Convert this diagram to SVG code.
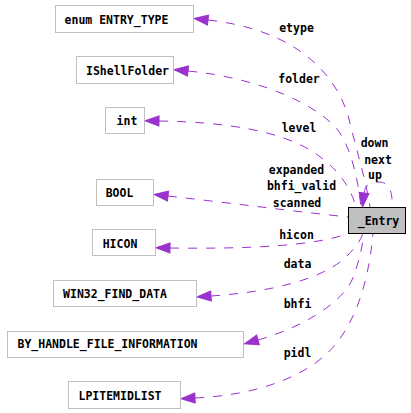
<svg xmlns="http://www.w3.org/2000/svg" width="411" height="413" viewBox="0 0 411 413">
<style>
text{font-family:"DejaVu Sans Mono","Liberation Mono",monospace;font-weight:bold;font-size:11.5px;fill:#000;text-anchor:middle}
.box{fill:#fff;stroke:#bfbfbf;stroke-width:1}
.main{fill:#bfbfbf;stroke:#000;stroke-width:1}
.edge{fill:none;stroke:#9a32cd;stroke-width:1;stroke-dasharray:9,9;marker-start:url(#ah)}
</style>
<defs>
<marker id="ah" markerUnits="userSpaceOnUse" markerWidth="16" markerHeight="12" refX="0" refY="5" orient="auto-start-reverse" overflow="visible">
<path d="M0,0 L14,5 L0,10 z" fill="#9a32cd" stroke="#9a32cd" stroke-width="1"/>
</marker>
</defs>
<rect width="411" height="413" fill="#fff"/>
<g id="connectors">
<path class="edge" d="M208,20 C280,28 330,60 348,115 C355,145 366,180 370,207"/>
<path class="edge" d="M188,71 C260,78 320,105 340,133 C352,152 358,180 361,207"/>
<path class="edge" d="M159,121 C230,122 280,132 310,150 C335,165 350,185 356,207"/>
<path class="edge" d="M168,196 C230,203 300,212 348,217"/>
<path class="edge" d="M170,248 C250,249 315,246 350,233"/>
<path class="edge" d="M211,296 C270,292 320,280 345,258 C355,248 360,242 363,233"/>
<path class="edge" d="M258,340 C300,328 340,305 352,280 C358,265 362,250 364,233"/>
<path class="edge" d="M195,398 C260,395 310,375 335,345 C360,315 370,270 373,233"/>
<path class="edge" d="M364,193 C365,184 372,182 379,182 C388,182 393,190 392,207"/>
<text x="296.5" y="32">etype</text>
<text x="299" y="83">folder</text>
<text x="299" y="132">level</text>
<text x="374.5" y="147">down</text>
<text x="378" y="164">next</text>
<text x="375" y="179">up</text>
<text x="296.5" y="174">expanded</text>
<text x="301.5" y="190">bhfi_valid</text>
<text x="297" y="207">scanned</text>
<text x="296.5" y="239">hicon</text>
<text x="297.5" y="268">data</text>
<text x="297.5" y="308">bhfi</text>
<text x="297.5" y="357">pidl</text>
</g>
<g id="node-entry-type"><rect class="box" x="55.5" y="5.5" width="138" height="27"/><text x="116.5" y="24">enum ENTRY_TYPE</text></g>
<g id="node-ishellfolder"><rect class="box" x="76.5" y="56.5" width="97" height="27"/><text x="127.5" y="75">IShellFolder</text></g>
<g id="node-int"><rect class="box" x="105.5" y="107.5" width="39" height="26"/><text x="127" y="125">int</text></g>
<g id="node-bool"><rect class="box" x="96.5" y="179.5" width="57" height="26"/><text x="119.5" y="197">BOOL</text></g>
<g id="node-hicon"><rect class="box" x="92.5" y="229.5" width="63" height="26"/><text x="120" y="248">HICON</text></g>
<g id="node-win32"><rect class="box" x="53.5" y="280.5" width="143" height="26"/><text x="115" y="298">WIN32_FIND_DATA</text></g>
<g id="node-byhandle"><rect class="box" x="7.5" y="331.5" width="236" height="26"/><text x="107.5" y="348">BY_HANDLE_FILE_INFORMATION</text></g>
<g id="node-lpitemidlist"><rect class="box" x="68.5" y="381.5" width="112" height="27"/><text x="120" y="400">LPITEMIDLIST</text></g>
<g id="node-entry"><rect class="main" x="348.5" y="207.5" width="57" height="26"/><text x="378.5" y="225">_Entry</text></g>
</svg>
